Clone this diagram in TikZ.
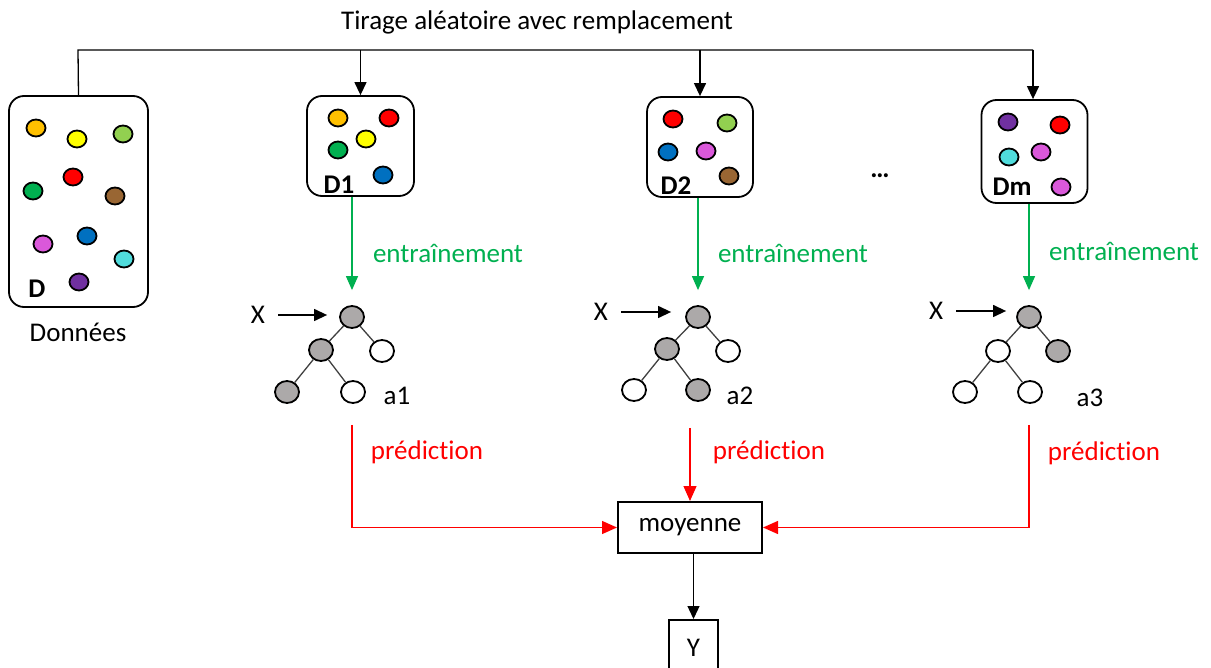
\documentclass[tikz,border=0pt]{standalone}
\usepackage{fontspec}
\setmainfont{Carlito}[Ligatures=NoCommon]
\usetikzlibrary{arrows.meta,shapes.geometric,calc}
\definecolor{cOrange}{RGB}{255,192,0}
\definecolor{cYellow}{RGB}{255,255,0}
\definecolor{cLGreen}{RGB}{146,208,80}
\definecolor{cRed}{RGB}{255,0,0}
\definecolor{cGreen}{RGB}{0,176,80}
\definecolor{cBrown}{RGB}{153,102,51}
\definecolor{cBlue}{RGB}{0,112,192}
\definecolor{cMag}{RGB}{218,88,218}
\definecolor{cCyan}{RGB}{80,220,220}
\definecolor{cPurple}{RGB}{112,48,160}
\definecolor{tGray}{RGB}{172,169,169}
\definecolor{lblGreen}{RGB}{0,176,80}
\tikzset{
  rbox/.style={draw, rounded corners=15pt, line width=1.8pt, inner sep=0pt},
  dot/.style={ellipse, draw, line width=1.8pt, minimum width=19pt, minimum height=17pt, inner sep=0pt},
  tn/.style={ellipse, draw, line width=1.8pt, minimum width=24pt, minimum height=22pt, inner sep=0pt, fill=white},
  tg/.style={tn, fill=tGray},
  tedge/.style={draw=black!75, line width=1.3pt},
  lbl/.style={inner sep=0pt, font=\fontsize{27}{32}\selectfont},
  blbl/.style={inner sep=0pt, font=\fontsize{27}{32}\selectfont\bfseries},
  conn/.style={line width=1.3pt},
  arr/.style={conn, -{Triangle[length=13pt,width=12pt]}},
  garr/.style={conn, draw=lblGreen, -{Triangle[length=14pt,width=12pt]}},
  rarr/.style={conn, draw=cRed, -{Triangle[length=15pt,width=13pt]}},
  sbox/.style={draw, line width=2pt, inner sep=0pt},
}
\begin{document}
\begin{tikzpicture}[x=1pt,y=-1pt]
\useasboundingbox (0,0) rectangle (1211,668);
% title
\node[lbl] (title) at (537,22) {Tirage aléatoire avec remplacement};
% boxes
\node[rbox, minimum width=139pt, minimum height=211pt] (D) at (78.5,201.5) {};
\node[rbox, minimum width=107pt, minimum height=100pt] (D1) at (360.5,146) {};
\node[rbox, minimum width=106pt, minimum height=100pt] (D2) at (700,147) {};
\node[rbox, minimum width=106pt, minimum height=103pt] (Dm) at (1034.5,151.5) {};
\node[lbl] (donnees) at (78,332) {Données};
\node[blbl] (dots) at (880,176) {…};
% dots in D
\node[dot, fill=cOrange] (d1) at (36,128) {};
\node[dot, fill=cYellow] (d2) at (77,139) {};
\node[dot, fill=cLGreen] (d3) at (123,134) {};
\node[dot, fill=cRed] (d4) at (73,177) {};
\node[dot, fill=cGreen] (d5) at (33,191) {};
\node[dot, fill=cBrown] (d6) at (115,196) {};
\node[dot, fill=cBlue] (d7) at (87,236) {};
\node[dot, fill=cMag] (d8) at (43,244) {};
\node[dot, fill=cCyan] (d9) at (124,259) {};
\node[dot, fill=cPurple] (d10) at (79,282) {};
\node[blbl] (Dl) at (37,289) {D};
% dots in D1
\node[dot, fill=cOrange] (e1) at (338,118) {};
\node[dot, fill=cRed] (e2) at (389,118) {};
\node[dot, fill=cYellow] (e3) at (366,139) {};
\node[dot, fill=cGreen] (e4) at (338,150) {};
\node[dot, fill=cBlue] (e5) at (383,175) {};
\node[blbl] (D1l) at (339,185) {D1};
% dots in D2
\node[dot, fill=cRed] (f1) at (673,119) {};
\node[dot, fill=cLGreen] (f2) at (727,123) {};
\node[dot, fill=cBlue] (f3) at (668,152) {};
\node[dot, fill=cMag] (f4) at (706,151) {};
\node[dot, fill=cBrown] (f5) at (729,176) {};
\node[blbl] (D2l) at (676,186) {D2};
% dots in Dm
\node[dot, fill=cPurple] (g1) at (1008,122) {};
\node[dot, fill=cRed] (g2) at (1060,125) {};
\node[dot, fill=cCyan] (g3) at (1009,157) {};
\node[dot, fill=cMag] (g4) at (1041,152) {};
\node[dot, fill=cMag] (g5) at (1061,187) {};
\node[blbl] (Dml) at (1012,187) {Dm};
% top connectors
\coordinate (tL) at (78,50);
\coordinate (tR) at (1033,50);
\draw[conn] (D.north) -- (tL) -- (tR);
\draw[arr] (D1.north |- tL) -- (D1.north);
\draw[arr] (D2.north |- tL) -- (D2.north);
\draw[arr] (tR) -- (tR |- Dm.north);
% trees
\node[tg] (r1) at (352,317) {};
\node[tg] (l1) at (321,350) {};
\node[tn] (rr1) at (382,351) {};
\node[tg] (ll1) at (287,392) {};
\node[tn] (lr1) at (353,392) {};
\node[tg] (r2) at (698,317) {};
\node[tg] (l2) at (667,349) {};
\node[tn] (rr2) at (728,351) {};
\node[tn] (ll2) at (634,390) {};
\node[tg] (lr2) at (698,390) {};
\node[tg] (r3) at (1029,317) {};
\node[tn] (l3) at (998,351) {};
\node[tg] (rr3) at (1058,351) {};
\node[tn] (ll3) at (965,392) {};
\node[tn] (lr3) at (1030,392) {};
\foreach \t in {1,2,3}{
  \draw[tedge] (r\t) -- (l\t);
  \draw[tedge] (r\t) -- (rr\t);
  \draw[tedge] (l\t) -- (ll\t);
  \draw[tedge] (l\t) -- (lr\t);
}
\node[lbl] (x1) at (258,315) {X};
\node[lbl] (x2) at (601,312) {X};
\node[lbl] (x3) at (936,311) {X};
\draw[arr, shorten <=13pt, shorten >=12pt] (x1.east) -- (x1.east -| r1.west);
\draw[arr, shorten <=13pt, shorten >=14pt] (x2.east) -- (x2.east -| r2.west);
\draw[arr, shorten <=13pt, shorten >=10pt] (x3.east) -- (x3.east -| r3.west);
\node[lbl] (a1) at (397,396) {a1};
\node[lbl] (a2) at (740,396) {a2};
\node[lbl] (a3) at (1090,398) {a3};
% training arrows
\draw[garr] (r1 |- D1.south) -- ([yshift=15pt]r1.north);
\draw[garr] (r2 |- D2.south) -- ([yshift=15pt]r2.north);
\draw[garr] (r3 |- Dm.south) -- ([yshift=15pt]r3.north);
\node[lbl, text=lblGreen] (en1) at (448,253) {entraînement};
\node[lbl, text=lblGreen] (en2) at (793,253) {entraînement};
\node[lbl, text=lblGreen] (en3) at (1124,251) {entraînement};
% moyenne and Y
\node[sbox, minimum width=144pt, minimum height=51pt, lbl] (moy) at (690,527.5) {moyenne};
\node[sbox, minimum width=49pt, minimum height=56pt, lbl] (Y) at (693.5,648) {Y};
\draw[arr] (moy.south -| Y.north) -- (Y.north);
% prediction arrows
\coordinate (c1) at (352,425);
\coordinate (c2) at (690,428);
\coordinate (c3) at (1029,425);
\draw[rarr] (c1) |- (moy.west);
\draw[rarr] (c2) -- (moy.north);
\draw[rarr] (c3) |- (moy.east);
\node[lbl, text=cRed] (p1) at (427,452) {prédiction};
\node[lbl, text=cRed] (p2) at (769,452) {prédiction};
\node[lbl, text=cRed] (p3) at (1104,453) {prédiction};
\end{tikzpicture}
\end{document}
